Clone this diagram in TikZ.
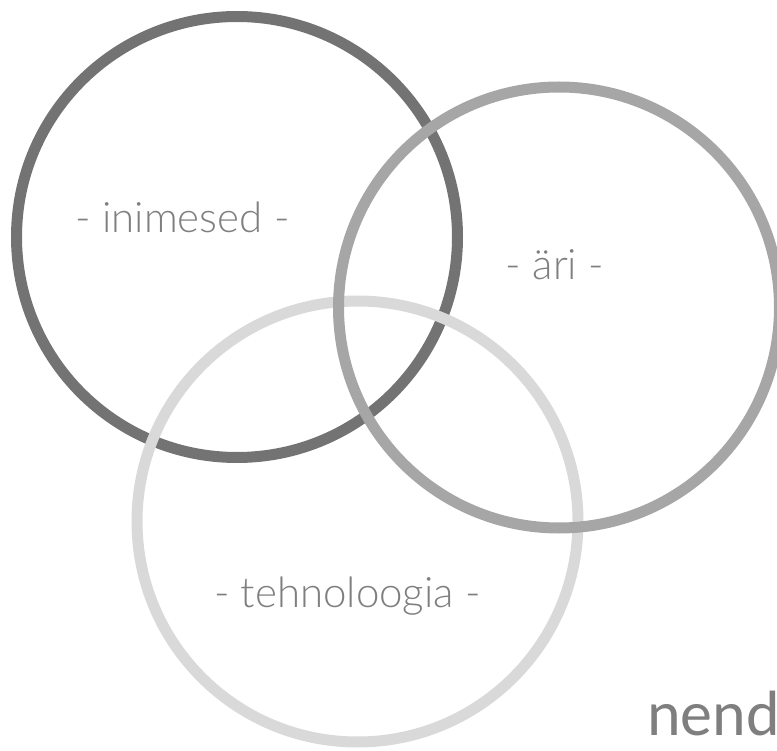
\documentclass[tikz,border=0pt]{standalone}
\usepackage{fontspec}
\setmainfont{Lato}[UprightFont={* Light}]
\newfontfamily\nendfont{Carlito}
\usetikzlibrary{positioning}

\definecolor{darkring}{HTML}{737373}
\definecolor{midring}{HTML}{A6A6A6}
\definecolor{lightring}{HTML}{D9D9D9}
\definecolor{labelgray}{HTML}{7F7F7F}

\begin{document}
\begin{tikzpicture}[x=1pt,y=-1pt,
		ring/.style={circle,inner sep=0pt,minimum size=441pt,line width=11pt},
		ringlabel/.style={anchor=base,inner sep=0pt,text=labelgray,font=\fontsize{42}{42}\selectfont}]
		\useasboundingbox (0,0) rectangle (777,751);
		% rings
		\node (inimesed) [ring,draw=darkring] at (237,237) {};
		\node (tehnoloogia) [ring,draw=lightring] at (357.5,521.5) {};
		\node (ari) [ring,draw=midring] at (559,307.5) {};
		% labels
		\node (inimesedtxt) [ringlabel] at (182.5,233) {- inimesed -};
		\node (aritxt) [ringlabel] at (555,280) {- äri -};
		\node (tehnoloogiatxt) [ringlabel] at (347.5,607) {- tehnoloogia -};
		\node (nend) [anchor=base west,inner sep=0pt,text=labelgray,font=\nendfont\fontsize{64}{64}\selectfont] at (647,735) {nend};
\end{tikzpicture}
\end{document}
